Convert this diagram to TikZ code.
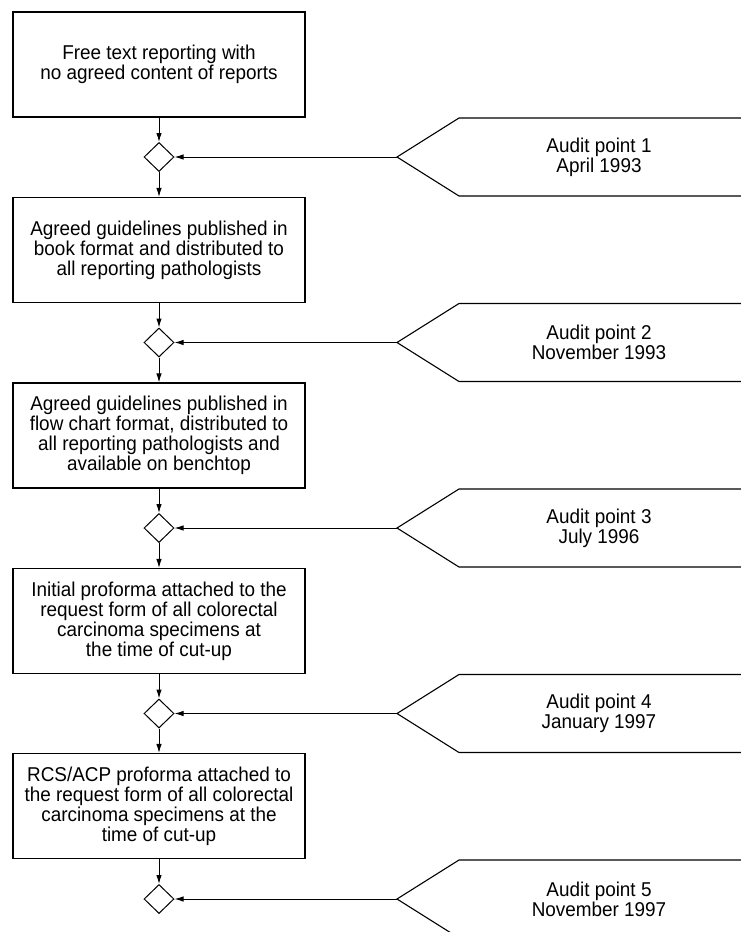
\documentclass[tikz,border=0pt]{standalone}
\usepackage{fontspec}
\setmainfont[FakeStretch=0.945]{Liberation Sans}
\usetikzlibrary{shapes.geometric,arrows.meta}
\begin{document}
\begin{tikzpicture}[x=1pt,y=-1pt,
  stepbox/.style={draw, line width=1.1pt, minimum width=292pt, minimum height=105pt, align=center, inner sep=0pt, font=\fontsize{20}{20}\selectfont},
  gate/.style={draw, diamond, line width=1pt, minimum width=30pt, minimum height=29pt, inner sep=0pt},
  audit/.style={align=center, inner sep=0pt, font=\fontsize{20}{20}\selectfont},
  pent/.style={line width=1.1pt},
  arr/.style={line width=1pt, -{Latex[length=9pt,width=5.5pt]}}
]
\useasboundingbox (0,0) rectangle (741,932);
\clip (0,0) rectangle (741,932);

% process boxes
\node[stepbox] (box1) at (159,64.5) {Free text reporting with\\no agreed content of reports};
\node[stepbox] (box2) at (159,250) {Agreed guidelines published in\\book format and distributed to\\all reporting pathologists};
\node[stepbox] (box3) at (159,435.5) {Agreed guidelines published in\\flow chart format, distributed to\\all reporting pathologists and\\available on benchtop};
\node[stepbox] (box4) at (159,621) {Initial proforma attached to the\\request form of all colorectal\\carcinoma specimens at\\the time of cut-up};
\node[stepbox] (box5) at (159,806) {RCS/ACP proforma attached to\\the request form of all colorectal\\carcinoma specimens at the\\time of cut-up};

% decision diamonds
\node[gate] (dia1) at (159,157) {};
\node[gate] (dia2) at (159,342.5) {};
\node[gate] (dia3) at (159,528) {};
\node[gate] (dia4) at (159,713.5) {};
\node[gate] (dia5) at (159,899) {};

% audit point pentagons
\foreach \i/\y in {1/157,2/342.5,3/528,4/713.5,5/899}{
  \coordinate (tip\i) at (397,\y);
  \draw[pent] (745,\y-39) -- (459,\y-39) -- (tip\i) -- (459,\y+39) -- (745,\y+39);
}
\node[audit] (aud1) at (599,157) {Audit point 1\\April 1993};
\node[audit] (aud2) at (599,342.5) {Audit point 2\\November 1993};
\node[audit] (aud3) at (599,528) {Audit point 3\\July 1996};
\node[audit] (aud4) at (599,713.5) {Audit point 4\\January 1997};
\node[audit] (aud5) at (599,899) {Audit point 5\\November 1997};

% connectors
\draw[arr] (box1) -- (dia1);
\draw[arr] (dia1) -- (box2);
\draw[arr] (box2) -- (dia2);
\draw[arr] (dia2) -- (box3);
\draw[arr] (box3) -- (dia3);
\draw[arr] (dia3) -- (box4);
\draw[arr] (box4) -- (dia4);
\draw[arr] (dia4) -- (box5);
\draw[arr] (box5) -- (dia5);
\foreach \i in {1,...,5}{
  \draw[arr] (tip\i) -- (dia\i.east);
}
\end{tikzpicture}
\end{document}
